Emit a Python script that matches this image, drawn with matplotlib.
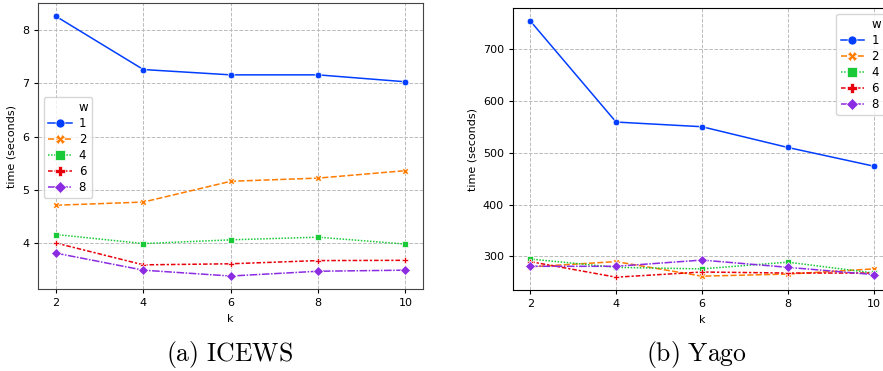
import matplotlib
matplotlib.use("Agg")
import matplotlib.pyplot as plt
from matplotlib.lines import Line2D

# ---------- data ----------
k = [2, 4, 6, 8, 10]
w_levels = ["1", "2", "4", "6", "8"]

icews_w1 = [8.26, 7.26, 7.16, 7.16, 7.03]
icews_w2 = [4.71, 4.77, 5.16, 5.22, 5.36]
icews_w4 = [4.16, 3.99, 4.06, 4.11, 3.98]
icews_w6 = [4.00, 3.59, 3.61, 3.67, 3.675]
icews_w8 = [3.81, 3.49, 3.38, 3.47, 3.49]

yago_w1 = [754, 559, 550, 510, 474]
yago_w2 = [280, 290, 262, 266, 276]
yago_w4 = [295, 279, 276, 289, 268]
yago_w6 = [290, 260, 270, 268, 268]
yago_w8 = [281, 281, 293, 279, 265]

# ---------- styles (seaborn bright palette / default markers & dashes) ----------
colors = ["#023eff", "#ff7c00", "#1ac938", "#e8000b", "#8b2be2"]
markers = ["o", "X", "s", "P", "D"]
dashes = [(), (4, 1.5), (1, 1), (3, 1.25, 1.5, 1.25), (5, 1, 1, 1)]

plt.rcParams["mathtext.fontset"] = "cm"
fig = plt.figure(figsize=(8.83, 3.71), dpi=100)

ax1 = fig.add_axes([0.0436, 0.221, 0.4354, 0.770])
ax2 = fig.add_axes([0.581, 0.2183, 0.428, 0.760])


def draw(ax, series, frame_color):
    for i, ys in enumerate(series):
        ax.plot(k, ys, color=colors[i], marker=markers[i], markersize=4.8,
                markeredgecolor="white", markeredgewidth=0.5,
                linewidth=1.1, dashes=dashes[i] if dashes[i] else (None, None),
                linestyle="-" if not dashes[i] else "--")
    ax.set_xticks(k)
    ax.grid(True, linestyle="--", color="#bbbbbb", linewidth=0.7)
    ax.set_axisbelow(True)
    ax.tick_params(labelsize=8, length=3, colors="black")
    ax.set_xlabel("k", fontsize=8)
    ax.set_ylabel("time (seconds)", fontsize=8)
    for s in ax.spines.values():
        s.set_color(frame_color)


def legend(ax, **kw):
    handles = [Line2D([], [], linestyle="none", label="w")]
    for i, lab in enumerate(w_levels):
        ls = "-" if not dashes[i] else (0, dashes[i])
        handles.append(Line2D([], [], color=colors[i], marker=markers[i],
                              markersize=6.5, markeredgecolor="white",
                              markeredgewidth=0.5, linewidth=1.1,
                              linestyle=ls, label=lab))
    ax.legend(handles=handles, fontsize=8.5, handlelength=2.0,
              labelspacing=0.25, handletextpad=0.6, borderpad=0.35, **kw)


draw(ax1, [icews_w1, icews_w2, icews_w4, icews_w6, icews_w8], "#444444")
draw(ax2, [yago_w1, yago_w2, yago_w4, yago_w6, yago_w8], "black")
ax1.set_yticks([4, 5, 6, 7, 8])
ax2.set_yticks([300, 400, 500, 600, 700])

legend(ax1, loc="upper left", bbox_to_anchor=(0.014, 0.672), borderaxespad=0)
legend(ax2, loc="upper right")

fig.text(229 / 883, 1 - 354 / 371, r"$\mathrm{(a)\ ICEWS}$", fontsize=18.5,
         ha="center", va="center")
fig.text(696 / 883, 1 - 354 / 371, r"$\mathrm{(b)\ Yago}$", fontsize=18.5,
         ha="center", va="center")

fig.savefig("out.png", dpi=100)
